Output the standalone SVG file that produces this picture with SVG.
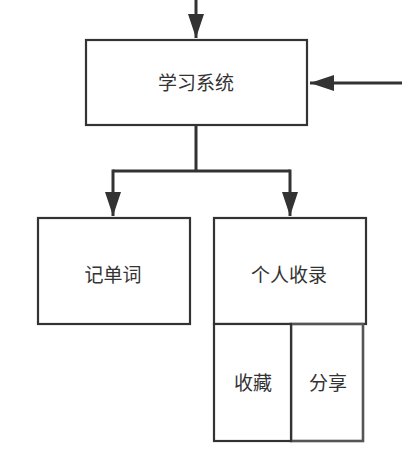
<svg xmlns="http://www.w3.org/2000/svg" width="402" height="474" viewBox="0 0 402 474">
<style>
.box{fill:#fff;stroke:#333;stroke-width:2.2}
.lbl{font-family:"Liberation Sans","Noto Sans CJK SC",sans-serif;font-size:19px;fill:#333;text-anchor:middle;dominant-baseline:central}
.c{fill:none;stroke:#333;stroke-width:3}
</style>
<defs>
<marker id="ah" markerUnits="userSpaceOnUse" markerWidth="26" markerHeight="18" refX="24" refY="8" orient="auto">
<path d="M0,0 L24,8 L0,16 Z" fill="#333"/>
</marker>
</defs>
<rect width="402" height="474" fill="#fff"/>
<g id="connectors">
<path class="c" d="M196,0 V38" marker-end="url(#ah)"/>
<path class="c" d="M402,83 H310" marker-end="url(#ah)"/>
<path class="c" d="M196,126 V171 M113,171 H290"/>
<path class="c" d="M113,169.5 V216" marker-end="url(#ah)"/>
<path class="c" d="M290,169.5 V216" marker-end="url(#ah)"/>
</g>
<g id="xuexi">
<rect class="box" x="86" y="40" width="221" height="85"/>
<text class="lbl" x="196" y="83">学习系统</text>
</g>
<g id="jidanci">
<rect class="box" x="38" y="218" width="152" height="106"/>
<text class="lbl" x="113" y="275">记单词</text>
</g>
<g id="geren">
<rect class="box" x="214" y="218" width="152" height="106"/>
<text class="lbl" x="289" y="275">个人收录</text>
</g>
<g id="fenxiang">
<rect class="box" x="291" y="324" width="72" height="117" style="stroke:#555;stroke-width:2.6"/>
<text class="lbl" x="328" y="383">分享</text>
</g>
<g id="shoucang">
<rect class="box" x="214" y="324" width="77" height="117"/>
<text class="lbl" x="253" y="383">收藏</text>
</g>
</svg>
